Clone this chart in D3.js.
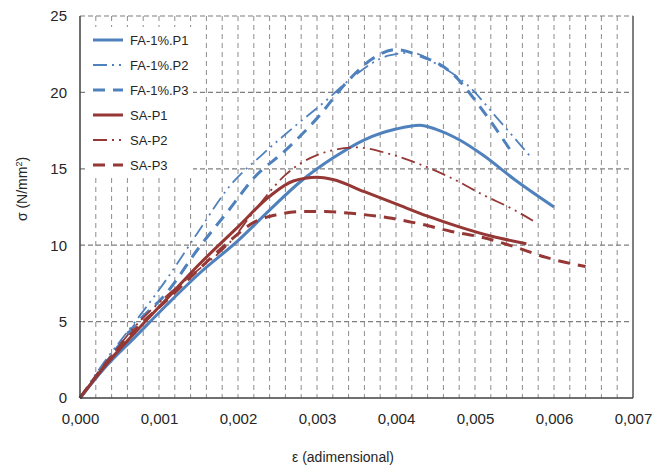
<!DOCTYPE html>
<html>
<head>
<meta charset="utf-8">
<script src="https://cdn.jsdelivr.net/npm/d3@7"></script>
<style>
  body { margin: 0; background: #fff; }
  text { font-family: "Liberation Sans", Arial, sans-serif; fill: #262626; }
</style>
</head>
<body>
<div id="chart"></div>
<script>
// strain (adimensional) and stress (N/mm2)
var faP1Strain = [0, 0.0003, 0.0007, 0.0011, 0.0015, 0.0020, 0.0024, 0.0028, 0.0032, 0.0036, 0.0040, 0.0043, 0.0045, 0.0048, 0.0051, 0.0055, 0.0060];
var faP1Stress = [0, 1.9, 4.0, 6.1, 8.1, 10.3, 12.3, 14.2, 15.7, 16.9, 17.6, 17.85, 17.6, 16.9, 15.9, 14.3, 12.5];

var faP2Strain = [0, 0.0003, 0.0007, 0.0011, 0.0015, 0.0019, 0.0023, 0.0027, 0.0031, 0.0035, 0.0039, 0.0042, 0.0045, 0.0049, 0.0053, 0.0057];
var faP2Stress = [0, 2.3, 5.0, 7.8, 10.9, 13.9, 15.9, 17.7, 19.4, 21.2, 22.4, 22.6, 21.9, 20.5, 18.2, 15.8];

var faP3Strain = [0, 0.0003, 0.0007, 0.0011, 0.0015, 0.0019, 0.0022, 0.0026, 0.0030, 0.0034, 0.0037, 0.0040, 0.0043, 0.0047, 0.0051, 0.00545];
var faP3Stress = [0, 2.1, 4.8, 6.9, 9.8, 12.4, 14.4, 16.2, 18.3, 20.8, 22.2, 22.8, 22.4, 21.3, 18.8, 16.2];

var saP1Strain = [0, 0.0003, 0.0007, 0.0011, 0.0015, 0.0020, 0.0024, 0.0027, 0.0030, 0.0032, 0.0036, 0.0040, 0.0044, 0.0048, 0.0052, 0.00565];
var saP1Stress = [0, 2.0, 4.3, 6.5, 8.7, 11.2, 13.2, 14.2, 14.45, 14.3, 13.5, 12.7, 11.9, 11.2, 10.6, 10.1];

var saP2Strain = [0, 0.0003, 0.0007, 0.0011, 0.0015, 0.0019, 0.0022, 0.0026, 0.0030, 0.0035, 0.0039, 0.0043, 0.0047, 0.0051, 0.0055, 0.00578];
var saP2Stress = [0, 2.1, 4.7, 6.7, 8.4, 10.2, 12.2, 14.6, 15.9, 16.4, 16.0, 15.3, 14.4, 13.3, 12.3, 11.45];

var saP3Strain = [0, 0.0003, 0.0007, 0.0011, 0.0015, 0.0019, 0.0022, 0.0025, 0.0028, 0.0031, 0.0035, 0.0039, 0.0043, 0.0047, 0.0051, 0.0055, 0.0059, 0.0064];
var saP3Stress = [0, 2.1, 4.5, 6.4, 8.4, 10.3, 11.5, 12.0, 12.2, 12.2, 12.05, 11.8, 11.4, 10.9, 10.5, 9.9, 9.2, 8.6];

var seriesNames = ["FA-1%.P1", "FA-1%.P2", "FA-1%.P3", "SA-P1", "SA-P2", "SA-P3"];
var xTicks = [0, 0.001, 0.002, 0.003, 0.004, 0.005, 0.006, 0.007];
var yTicks = [0, 5, 10, 15, 20, 25];

var blue = "#4f81bd";
var red = "#953735";

// line style per series
var styles = [
  { color: blue, width: 3, dash: null },
  { color: blue, width: 1.8, dash: "14,5,2,5,2,5" },
  { color: blue, width: 3, dash: "12,8" },
  { color: red, width: 3, dash: null },
  { color: red, width: 1.8, dash: "14,5,2,5,2,5" },
  { color: red, width: 3, dash: "12,8" }
];

var allSeries = [
  [faP1Strain, faP1Stress],
  [faP2Strain, faP2Stress],
  [faP3Strain, faP3Stress],
  [saP1Strain, saP1Stress],
  [saP2Strain, saP2Stress],
  [saP3Strain, saP3Stress]
];

var width = 663;
var height = 467;
// plot box edges
var plotL = 80, plotR = 633, plotT = 16, plotB = 398;

var svg = d3.select("#chart").append("svg")
  .attr("width", width)
  .attr("height", height);

var xScale = d3.scaleLinear().domain([0, 0.007]).range([plotL, plotR]);
var yScale = d3.scaleLinear().domain([0, 25]).range([plotB, plotT]);

var locale = d3.formatLocale({ decimal: ",", thousands: ".", grouping: [3], currency: ["", ""] });
var fmtX = locale.format(".3f");

// vertical minor gridlines every 0.0002
var minor = d3.range(1, 35).map(function(i) { return i * 0.0002; });
svg.append("g").selectAll("line").data(minor).enter().append("line")
  .attr("x1", function(d) { return xScale(d); })
  .attr("x2", function(d) { return xScale(d); })
  .attr("y1", plotT)
  .attr("y2", plotB)
  .attr("stroke", "#8c8c8c")
  .attr("stroke-width", 1)
  .attr("stroke-dasharray", "5,4");

// horizontal gridlines
svg.append("g").selectAll("line").data(yTicks.slice(1)).enter().append("line")
  .attr("x1", plotL)
  .attr("x2", plotR)
  .attr("y1", function(d) { return yScale(d); })
  .attr("y2", function(d) { return yScale(d); })
  .attr("stroke", "#7f7f7f")
  .attr("stroke-width", 1.2)
  .attr("stroke-dasharray", "5,3");

// right border
svg.append("line")
  .attr("x1", plotR).attr("x2", plotR)
  .attr("y1", plotT).attr("y2", plotB)
  .attr("stroke", "#7f7f7f")
  .attr("stroke-width", 2);

// axes
var xAxis = d3.axisBottom(xScale).tickValues(xTicks).tickSize(0).tickPadding(15).tickFormat(fmtX);
var yAxis = d3.axisLeft(yScale).tickValues(yTicks).tickSize(0).tickPadding(13);

svg.append("g")
  .attr("class", "xAxis")
  .attr("transform", "translate(0," + plotB + ")")
  .call(xAxis);
svg.append("g")
  .attr("class", "yAxis")
  .attr("transform", "translate(" + plotL + ",0)")
  .call(yAxis);

svg.selectAll(".xAxis text, .yAxis text")
  .style("font-size", "15px")
  .style("font-family", "'Liberation Sans', Arial, sans-serif")
  .attr("fill", "#262626");
svg.selectAll(".xAxis .domain, .yAxis .domain").remove();

// curves
var line = d3.line()
  .x(function(d) { return xScale(d[0]); })
  .y(function(d) { return yScale(d[1]); })
  .curve(d3.curveMonotoneX);

allSeries.forEach(function(s, i) {
  var pts = s[0].map(function(e, j) { return [e, s[1][j]]; });
  svg.append("path")
    .datum(pts)
    .attr("d", line)
    .attr("fill", "none")
    .attr("stroke", styles[i].color)
    .attr("stroke-width", styles[i].width)
    .attr("stroke-dasharray", styles[i].dash)
    .attr("stroke-linejoin", "round");
});

// axis lines on top
svg.append("line")
  .attr("x1", plotL).attr("x2", plotL)
  .attr("y1", plotT).attr("y2", plotB)
  .attr("stroke", "#404040").attr("stroke-width", 1.5);
svg.append("line")
  .attr("x1", plotL).attr("x2", plotR)
  .attr("y1", plotB).attr("y2", plotB)
  .attr("stroke", "#404040").attr("stroke-width", 1.5);

// legend
svg.append("rect")
  .attr("x", 88).attr("y", 27)
  .attr("width", 105).attr("height", 150)
  .attr("fill", "#fff");

var legend = svg.append("g").selectAll("g").data(seriesNames).enter().append("g")
  .attr("transform", function(d, i) { return "translate(93," + (40 + i * 25) + ")"; });

legend.append("line")
  .attr("x1", 0).attr("x2", 30)
  .attr("y1", 0).attr("y2", 0)
  .attr("stroke", function(d, i) { return styles[i].color; })
  .attr("stroke-width", function(d, i) { return styles[i].width; })
  .attr("stroke-dasharray", function(d, i) { return styles[i].dash; });

legend.append("text")
  .attr("x", 37)
  .attr("y", 4.5)
  .style("font-size", "13px")
  .text(function(d) { return d; });

// axis titles
svg.append("text")
  .attr("x", 343)
  .attr("y", 462)
  .attr("text-anchor", "middle")
  .style("font-size", "14px")
  .text("ε (adimensional)");

var yTitle = svg.append("text")
  .attr("transform", "translate(27,189)rotate(-90)")
  .attr("text-anchor", "middle")
  .style("font-size", "14px");
yTitle.append("tspan").text("σ  (N/mm");
yTitle.append("tspan").attr("baseline-shift", "super").style("font-size", "9px").text("2");
yTitle.append("tspan").text(")");
</script>
</body>
</html>
